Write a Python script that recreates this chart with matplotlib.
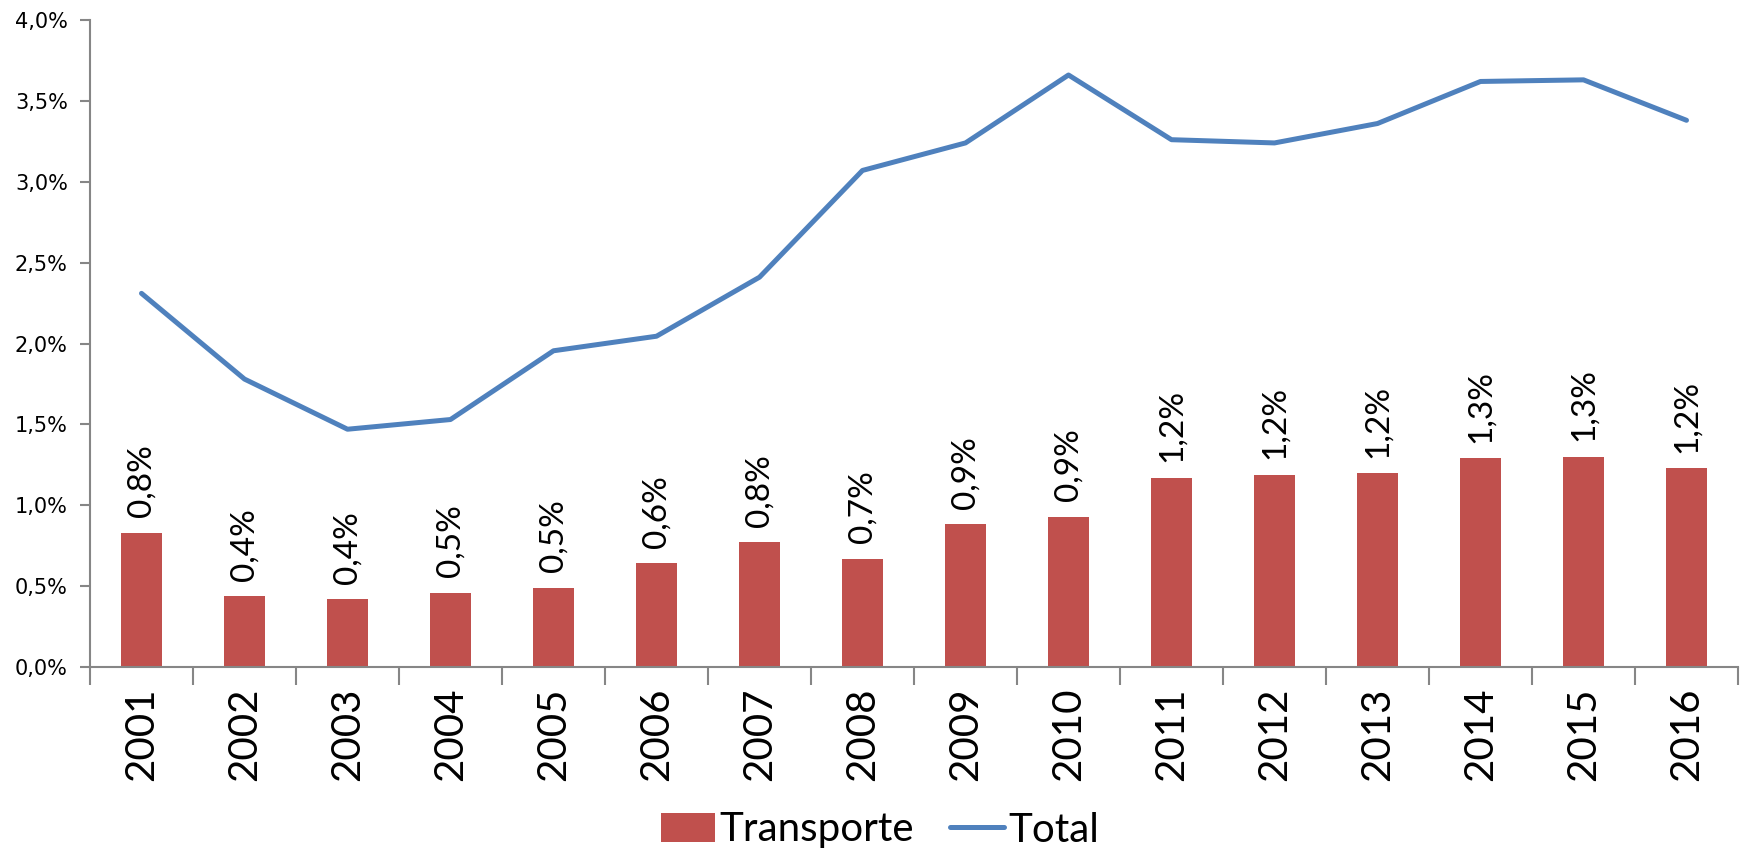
import matplotlib
matplotlib.use("Agg")
import matplotlib.pyplot as plt
import numpy as np

years = ["2001", "2002", "2003", "2004", "2005", "2006", "2007", "2008",
         "2009", "2010", "2011", "2012", "2013", "2014", "2015", "2016"]
transporte = [0.83, 0.44, 0.42, 0.46, 0.49, 0.64, 0.77, 0.67,
              0.885, 0.93, 1.17, 1.19, 1.20, 1.29, 1.30, 1.23]
total = [2.31, 1.78, 1.47, 1.53, 1.955, 2.045, 2.41, 3.07,
         3.24, 3.66, 3.26, 3.24, 3.36, 3.62, 3.63, 3.38]
yticks = [0.0, 0.5, 1.0, 1.5, 2.0, 2.5, 3.0, 3.5, 4.0]

W, H = 1743, 851
fig = plt.figure(figsize=(W / 100, H / 100), dpi=100)
ax = fig.add_axes([90 / W, 1 - 667 / H, (1738 - 90) / W, (667 - 20) / H])

x = np.arange(len(years))
bar_color = "#C0504D"
line_color = "#4F81BD"
axis_color = "#868686"

bars = ax.bar(x, transporte, width=0.4, color=bar_color, label="Transporte", zorder=2)
ax.plot(x, total, color=line_color, lw=3.6, label="Total", zorder=3,
        solid_capstyle="round", solid_joinstyle="round")

for xi, v in zip(x, transporte):
    ax.annotate(f"{v:.1f}%".replace(".", ","), (xi, v), xytext=(0, 11),
                textcoords="offset points", rotation=90, ha="center", va="bottom",
                fontsize=24, family="Lato")

ax.set_xlim(-0.5, len(years) - 0.5)
ax.set_ylim(0, 4.0)
ax.set_yticks(yticks)
ax.set_yticklabels([f"{t:.1f}%".replace(".", ",") for t in yticks], fontsize=15, family="DejaVu Sans")

ax.set_xticks(x)
ax.set_xticklabels(years, rotation=90, fontsize=29, family="Lato")
ax.set_xticks(np.arange(-0.5, len(years)), minor=True)
ax.tick_params(axis="x", which="major", length=0, pad=15)
ax.tick_params(axis="x", which="minor", length=13, width=1.5, color=axis_color)
ax.tick_params(axis="y", length=7, width=1.5, color=axis_color, pad=9)

for s in ["top", "right"]:
    ax.spines[s].set_visible(False)
for s in ["left", "bottom"]:
    ax.spines[s].set_color(axis_color)
    ax.spines[s].set_linewidth(1.5)

fig.legend(handles=[bars, ax.lines[0]], labels=["Transporte", "Total"],
           loc="center", bbox_to_anchor=(880 / W, 1 - 830 / H), ncol=2, frameon=False,
           prop={"family": "Lato", "size": 29}, handlelength=1.35, handletextpad=0.1,
           columnspacing=0.9)

fig.savefig("out.png", dpi=100)
